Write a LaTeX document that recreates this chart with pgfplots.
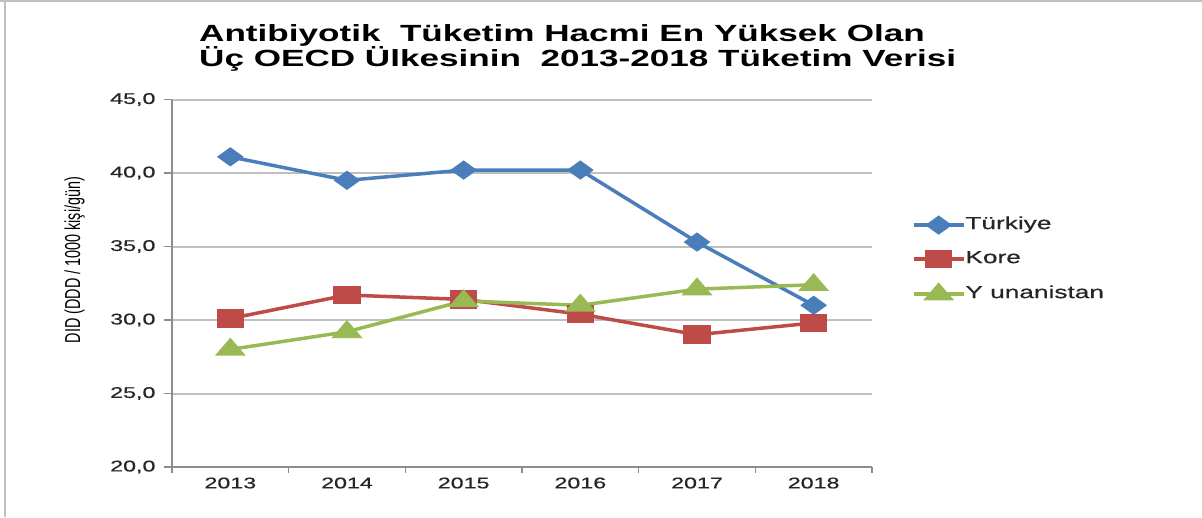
\documentclass[border=0pt]{standalone}
\usepackage{pgfplots}
\pgfplotsset{compat=1.18}
\usepackage{fontspec}
\setmainfont{Liberation Sans}[FakeStretch=1.5]
\newfontfamily\plainfont{Liberation Sans}
\newfontfamily\tickfont{Liberation Sans}[FakeStretch=1.5, FakeBold=0.6]
\definecolor{cblue}{HTML}{4A7EBB}
\definecolor{cred}{HTML}{BE4B48}
\definecolor{cgreen}{HTML}{98B954}
\definecolor{gridc}{HTML}{BFBFBF}
\definecolor{axc}{HTML}{8C8C8C}
\definecolor{txt}{HTML}{262626}
\begin{document}
\begin{tikzpicture}[x=1pt,y=1pt]
\useasboundingbox (0,0) rectangle (1202,517);
\draw[gridc, line width=1.5pt] (0,516.2) -- (1202,516.2);
\draw[gridc, line width=2pt] (5,0) -- (5,517);
\node[align=left, anchor=west, font=\fontsize{23.4}{25}\selectfont\bfseries, text=black, inner sep=0pt] at (199,469) {Antibiyotik\ \ Tüketim Hacmi En Yüksek Olan\\Üç OECD Ülkesinin\ \ 2013-2018 Tüketim Verisi};
\begin{axis}[
  at={(172pt,50pt)}, anchor=south west,
  scale only axis, width=700pt, height=367.5pt,
  xmin=-0.5, xmax=5.5, ymin=20, ymax=45,
  axis x line*=bottom, axis y line*=left,
  axis line style={axc, line width=1.5pt},
  xtick={0,1,2,3,4,5},
  xticklabels={2013,2014,2015,2016,2017,2018},
  major x tick style={draw=none},
  minor xtick={-0.5,0.5,1.5,2.5,3.5,4.5,5.5},
  minor x tick style={axc, line width=1.5pt},
  minor tick length=6pt,
  ytick={20,25,30,35,40,45},
  major tick length=8pt,
  y tick style={axc, line width=1.5pt},
  tick align=outside,
  ymajorgrids,
  grid style={gridc, line width=2pt},
  yticklabel={\pgfmathprintnumber[fixed,fixed zerofill,precision=1,use comma]{\tick}},
  /pgf/number format/assume math mode=true,
  ticklabel style={font=\tickfont\fontsize{15.5}{18}\selectfont, text=txt},
  yticklabel style={xshift=-5pt},
  xticklabel style={yshift=1pt},
  ylabel={\scalebox{1}[1.5]{\plainfont\fontsize{14.4}{16}\selectfont DID (DDD / 1000 kişi/gün)}},
  ylabel style={at={(axis description cs:-0.139,0.563)}, anchor=center, rotate=0, text=black},
  legend style={at={(axis description cs:1.057,0.680)}, anchor=north west, draw=none, fill=none,
    font=\tickfont\fontsize{17.5}{20}\selectfont, text=txt, inner sep=0pt, outer sep=0pt,
    row sep=18pt,
    nodes={inner sep=0pt, text height=12pt, text depth=4pt},
    /tikz/every even column/.append style={column sep=3pt}},
  legend cell align=left,
  legend image code/.code={\draw[#1, mark repeat=2, mark phase=2] plot coordinates {(0pt,0pt) (25pt,0pt) (50pt,0pt)};},
]
\addplot[cblue, line width=3.5pt, mark=diamond*, mark size=7.5pt, mark options={solid, xscale=1.85}] coordinates {(0,41.1) (1,39.5) (2,40.2) (3,40.2) (4,35.3) (5,31.0)};
\addlegendentry{Türkiye}
\addplot[cred, line width=3.5pt, mark=square*, mark size=7.5pt, mark options={solid, xscale=1.6, rounded corners=2pt}] coordinates {(0,30.1) (1,31.7) (2,31.4) (3,30.4) (4,29.0) (5,29.8)};
\addlegendentry{Kore}
\addplot[cgreen, line width=3.5pt, mark=triangle*, mark size=9pt, mark options={solid, xscale=1.5}] coordinates {(0,28.0) (1,29.2) (2,31.3) (3,31.0) (4,32.1) (5,32.4)};
\addlegendentry{Y unanistan}
\end{axis}
\end{tikzpicture}
\end{document}
